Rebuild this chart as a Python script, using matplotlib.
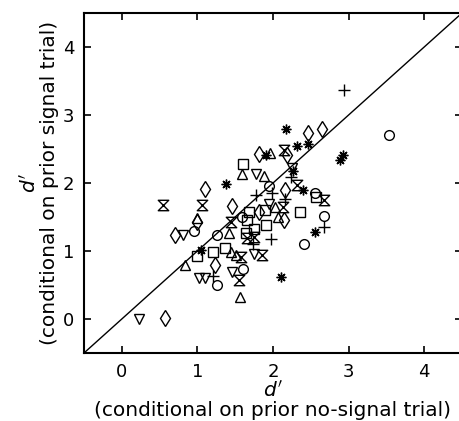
import numpy as np
import matplotlib
matplotlib.use("Agg")
from matplotlib import pyplot as plt
from matplotlib.path import Path

# d' values, grouped by marker (one group per observer)
circ_x = [3.54, 1.95, 2.55, 2.67, 2.41, 1.59, 1.26, 0.95, 1.60, 1.26]
circ_y = [2.71, 1.96, 1.85, 1.51, 1.11, 1.50, 1.24, 1.29, 0.74, 0.50]

sq_x = [1.60, 1.68, 1.90, 2.36, 2.57, 1.66, 1.91, 1.75, 1.64, 1.00, 1.21, 1.37]
sq_y = [2.28, 1.58, 1.60, 1.58, 1.79, 1.45, 1.38, 1.33, 1.26, 0.93, 0.99, 1.05]

tup_x = [1.96, 1.59, 1.88, 2.03, 2.07, 0.99, 1.42, 1.45, 1.51, 0.83, 1.56]
tup_y = [2.44, 2.13, 2.10, 1.65, 1.50, 1.49, 1.26, 0.99, 0.94, 0.79, 0.33]

tdn_x = [1.78, 2.25, 1.95, 0.81, 1.75, 1.02, 1.10, 1.46, 0.23]
tdn_y = [2.13, 2.22, 1.69, 1.24, 0.95, 0.61, 0.61, 0.69, 0.00]

dia_x = [2.46, 2.65, 1.81, 2.18, 1.10, 2.16, 1.46, 1.82, 2.14, 0.99, 0.70, 1.23, 0.57]
dia_y = [2.74, 2.79, 2.42, 2.41, 1.91, 1.89, 1.66, 1.57, 1.46, 1.43, 1.24, 0.79, 0.02]

plus_x = [2.94, 2.24, 1.99, 1.77, 2.16, 2.68, 1.97, 1.73, 1.21]
plus_y = [3.37, 2.09, 1.85, 1.82, 1.77, 1.36, 1.18, 1.10, 0.63]

ast_x = [2.17, 2.32, 2.46, 2.88, 2.93, 1.91, 1.38, 2.26, 2.40, 2.55, 1.05, 2.11]
ast_y = [2.79, 2.55, 2.58, 2.34, 2.41, 2.41, 1.98, 2.17, 1.90, 1.28, 1.01, 0.62]

hg_x = [0.55, 1.06, 2.14, 2.32, 2.67, 2.13, 1.44, 1.65, 1.75, 1.86, 1.58, 1.55]
hg_y = [1.67, 1.68, 2.49, 1.97, 1.75, 1.65, 1.43, 1.19, 1.21, 0.94, 0.91, 0.57]

ticks = [0, 1, 2, 3, 4]

# hourglass marker: bar on top and bottom, crossed diagonals
hourglass = Path([(-1, 1), (1, 1), (-1, -1), (1, -1), (-1, 1)],
                 [Path.MOVETO, Path.LINETO, Path.LINETO, Path.LINETO, Path.CLOSEPOLY])

fig = plt.figure(figsize=(4.6, 4.21), dpi=100)
# right spine sits just past the image edge, as in the original
ax = fig.add_axes([84 / 460, (421 - 353) / 421, (462 - 84) / 460, (353 - 13) / 421])

ax.plot([-0.5, 4.5], [-0.5, 4.5], color='k', lw=1.0, zorder=1)

style = dict(ls='none', mfc='none', mec='k', mew=1.0, zorder=2)
ax.plot(circ_x, circ_y, marker='o', ms=7, **style)
ax.plot(sq_x, sq_y, marker='s', ms=6.5, **style)
ax.plot(tup_x, tup_y, marker='^', ms=7, **style)
ax.plot(tdn_x, tdn_y, marker='v', ms=7, **style)
ax.plot(dia_x, dia_y, marker='d', ms=8.5, **style)
ax.plot(plus_x, plus_y, marker='+', ms=8, **style)
ax.plot(ast_x, ast_y, marker=(8, 2, 0), ms=7, ls='none', color='k', mew=1.0, zorder=2)
ax.plot(hg_x, hg_y, marker=hourglass, ms=7.5, **style)

ax.set_xlim(-0.5, 4.5)
ax.set_ylim(-0.5, 4.5)
ax.set_xticks(ticks)
ax.set_yticks(ticks)
ax.tick_params(direction='in', top=True, right=True, length=5, width=1.2,
               labelsize=13, pad=7)
for s in ax.spines.values():
    s.set_linewidth(1.5)

ax.set_xlabel("$d'$\n(conditional on prior no-signal trial)", fontsize=14.5,
              labelpad=0, linespacing=1.0)
ax.set_ylabel("$d'$\n(conditional on prior signal trial)", fontsize=14.5,
              labelpad=3, linespacing=1.0)

fig.savefig("out.png", dpi=100)
